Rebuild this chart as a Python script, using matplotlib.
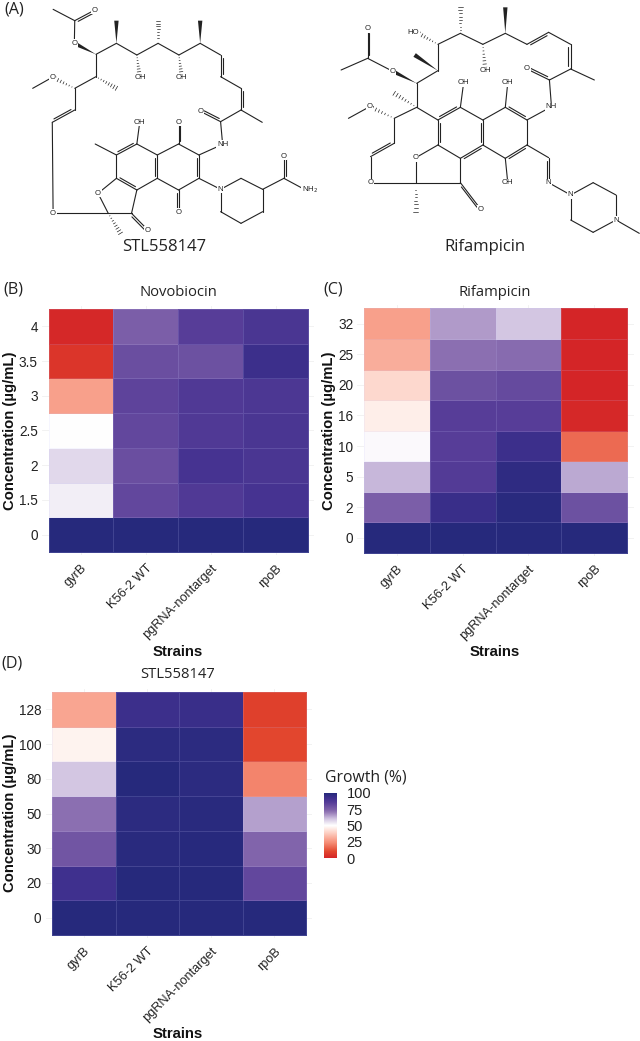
import numpy as np
import matplotlib
matplotlib.use('Agg')
import matplotlib.pyplot as plt
from matplotlib.colors import LinearSegmentedColormap
from matplotlib.patches import Polygon

strains = ['gyrB', 'K56-2 WT', 'pgRNA-nontarget', 'rpoB']

# values, growth in %, top row first
novo_conc = ['4', '3.5', '3', '2.5', '2', '1.5', '0']
novo_gyrB = [1, 5, 28, 50, 57, 53, 100]
novo_wt = [75, 80, 83, 82, 80, 82, 100]
novo_pg = [85, 79, 87, 87, 90, 87, 100]
novo_rpoB = [89, 93, 88, 89, 89, 90, 100]

rif_conc = ['32', '25', '20', '16', '10', '5', '2', '0']
rif_gyrB = [28, 31, 41, 46, 51, 62, 75, 100]
rif_wt = [66, 72, 79, 85, 85, 86, 94, 100]
rif_pg = [60, 73, 81, 85, 93, 97, 99, 100]
rif_rpoB = [0, 0, 0, 1, 17, 64, 79, 100]

stl_conc = ['128', '100', '80', '50', '30', '20', '0']
stl_gyrB = [29, 47, 60, 72, 78, 92, 100]
stl_wt = [93, 98, 100, 98, 99, 100, 100]
stl_pg = [94, 98, 98, 99, 99.5, 100, 100]
stl_rpoB = [8, 10, 22, 65, 74, 82, 100]

# Colour scale (red - white - navy, looks like a Lab gradient)
cmap = LinearSegmentedColormap.from_list('growth', [
    (0.00, '#d42527'), (0.10, '#e2472e'), (0.25, '#f7937c'), (0.40, '#fdd5ca'),
    (0.50, '#ffffff'), (0.60, '#d3c6e2'), (0.70, '#977cb8'), (0.75, '#7c5fa8'),
    (0.85, '#573d98'), (0.92, '#40308e'), (1.00, '#26297c')])

W, H = 640, 1041
SANS = 'Liberation Sans'
OPEN = 'Open Sans'

fig = plt.figure(figsize=(W / 100, H / 100), dpi=100)
over = fig.add_axes([0, 0, 1, 1], zorder=5)
over.set_xlim(0, W)
over.set_ylim(H, 0)
over.axis('off')


def heatmap(box, conc, cols, title, title_x, title_y):
    left, top, right, bottom = box  # pixel edges of the coloured cells
    nx, ny = len(cols), len(conc)
    ux = (right - left) / nx
    uy = (bottom - top) / ny
    # discrete scale expansion of 0.1 unit past the cells
    ax = fig.add_axes([(left - 0.1 * ux) / W, 1 - (bottom + 0.1 * uy) / H,
                       (right - left + 0.2 * ux) / W, (bottom - top + 0.2 * uy) / H])
    vals = np.array(cols).T[::-1]
    mesh = ax.pcolormesh(np.arange(nx + 1) - 0.5, np.arange(ny + 1) - 0.5, vals,
                         cmap=cmap, vmin=0, vmax=100,
                         edgecolors=(0.8, 0.8, 1, 0.16), linewidth=0.6, zorder=2)
    ax.set_xlim(-0.6, nx - 0.4)
    ax.set_ylim(-0.6, ny - 0.4)
    ax.set_xticks(range(nx))
    ax.set_xticklabels(strains, rotation=45, ha='right', va='top', rotation_mode='anchor',
                       fontsize=9.2, family=SANS, color='#222222')
    ax.set_yticks(range(ny))
    ax.set_yticklabels(conc[::-1], fontsize=9.8, family=SANS, color='#222222')
    ax.tick_params(length=0, pad=3)
    ax.tick_params(axis='x', pad=5)
    ax.grid(True, color='#f0f0f0', linewidth=0.6, zorder=0)
    ax.set_axisbelow(True)
    for s in ax.spines.values():
        s.set_visible(False)
    over.text(title_x, title_y, title, ha='center', va='center', fontsize=10.6,
              family=OPEN, color='#222222')
    return mesh


mesh = heatmap((48.5, 309, 308, 552), novo_conc,
               [novo_gyrB, novo_wt, novo_pg, novo_rpoB], 'Novobiocin', 178, 292)
heatmap((364, 308.5, 627, 553), rif_conc,
        [rif_gyrB, rif_wt, rif_pg, rif_rpoB], 'Rifampicin', 495, 292)
heatmap((52, 692, 306, 935), stl_conc,
        [stl_gyrB, stl_wt, stl_pg, stl_rpoB], 'STL558147', 178, 675)

# Axis labels
for x, y in [(178, 652), (495, 652), (178, 1034)]:
    over.text(x, y, 'Strains', ha='center', va='center', fontsize=10.7,
              fontweight='bold', family=SANS, color='#111111')
for x, y in [(10.5, 431), (329, 431), (10.5, 813)]:
    over.text(x, y, 'Concentration (µg/mL)', ha='center', va='center', rotation=90,
              fontsize=10.7, fontweight='bold', family=SANS, color='#111111')

# Panel letters
for x, y, s in [(4, 10, '(A)'), (3, 290, '(B)'), (323, 290, '(C)'), (1, 663, '(D)')]:
    over.text(x, y, s, ha='left', va='center', fontsize=11.6, family=OPEN, color='#222222')

# Legend
cax = fig.add_axes([324 / W, 1 - 858 / H, 13 / W, 65 / H])
cb = fig.colorbar(mesh, cax=cax)
cb.set_ticks([0, 25, 50, 75, 100])
cb.outline.set_visible(False)
cb.ax.tick_params(length=0, pad=7, labelsize=10.5, labelcolor='#222222')
for t in cb.ax.get_yticklabels():
    t.set_family(SANS)
over.text(325, 777, 'Growth (%)', ha='left', va='center', fontsize=11.3,
          family=OPEN, color='#222222')


# Chemical structures of panel A, coordinates
def P(a):
    return np.array([a[0] / 2.448, a[1] / 3.0])


def seg_px(a, b, lw=0.8):
    over.plot([a[0], b[0]], [a[1], b[1]], color='#222222', lw=lw,
              solid_capstyle='round', zorder=2)


def seg(a, b):
    seg_px(P(a), P(b))


def chain(pts):
    for a, b in zip(pts[:-1], pts[1:]):
        seg(a, b)


def double(a, b, side=1, off=2.2):
    a, b = P(a), P(b)
    seg_px(a, b)
    d = b - a
    n = np.array([-d[1], d[0]]) / np.hypot(*d) * off * side
    seg_px(a + 0.12 * d + n, b - 0.12 * d + n)


def wedge(a, b, w=2.2):
    a, b = P(a), P(b)
    d = b - a
    n = np.array([-d[1], d[0]]) / np.hypot(*d) * w
    over.add_patch(Polygon([a, b + n, b - n], closed=True, color='#222222', lw=0, zorder=2))


def hashed(a, b, w=2.4, count=8):
    a, b = P(a), P(b)
    d = b - a
    n = np.array([-d[1], d[0]]) / np.hypot(*d) * w
    for i in range(1, count + 1):
        f = i / count
        seg_px(a + f * d - f * n, a + f * d + f * n, lw=0.5)


def atom(x, y, s):
    px = P((x, y))
    over.text(px[0], px[1], s, ha='center', va='center', fontsize=5.6, family=SANS, color='#222222',
              zorder=3, bbox=dict(facecolor='white', edgecolor='none', pad=0.4))


# STL558147
chain([(130, 28), (183, 62), (182, 130)])
double((183, 62), (232, 30), side=1)
wedge((235, 163), (182, 130))
chain([(235, 163), (285, 130), (335, 165), (387, 130), (438, 165), (490, 130), (540, 165)])
double((540, 165), (540, 230), side=-1)
seg((540, 230), (590, 265))
double((590, 265), (590, 330), side=-1)
chain([(590, 330), (642, 367)])
seg((590, 330), (540, 365))
double((540, 365), (492, 335), side=1)
chain([(540, 365), (545, 433), (487, 465)])
wedge((285, 130), (285, 62))
hashed((387, 130), (387, 62))
wedge((490, 130), (490, 62))
hashed((335, 165), (342, 232))
hashed((438, 165), (445, 232))
seg((235, 163), (235, 230))
hashed((235, 230), (285, 265))
seg((235, 230), (183, 265))
hashed((183, 265), (128, 232))
seg((128, 232), (80, 265))
seg((183, 265), (183, 330))
double((183, 330), (128, 367), side=1)
chain([(128, 367), (130, 640), (265, 640)])
chain([(335, 432), (385, 465)])
double((385, 465), (385, 535), side=1)
seg((385, 535), (335, 570))
double((335, 570), (285, 535), side=1)
seg((285, 535), (285, 465))
double((285, 465), (335, 432), side=-1)
seg((335, 432), (342, 367))
seg((285, 465), (233, 432))
chain([(285, 535), (240, 580), (265, 640), (322, 640), (335, 570)])
double((322, 640), (362, 690), side=1)
hashed((265, 640), (295, 700))
chain([(385, 465), (437, 432), (487, 465)])
double((487, 465), (487, 535), side=1)
chain([(487, 535), (437, 570), (385, 535)])
double((437, 432), (437, 367), side=1, off=1.8)
double((437, 570), (437, 637), side=1, off=1.8)
chain([(487, 535), (540, 568), (590, 535), (643, 568), (643, 635), (590, 670), (540, 635), (540, 568)])
seg((643, 568), (695, 535))
double((695, 535), (695, 468), side=1, off=1.8)
seg((695, 535), (745, 568))
for x, y, s in [(232, 30, 'O'), (182, 130, 'O'), (343, 232, 'OH'), (445, 232, 'OH'), (128, 232, 'O'),
                (490, 335, 'O'), (545, 433, 'NH'), (342, 367, 'OH'), (437, 367, 'O'), (437, 637, 'O'),
                (240, 580, 'O'), (130, 640, 'O'), (362, 690, 'O'), (540, 568, 'N'), (695, 468, 'O'),
                (758, 570, 'NH$_2$')]:
    atom(x, y, s)

# Rifampicin
seg((835, 210), (900, 175))
double((900, 175), (900, 88), side=1, off=1.8)
seg((900, 175), (960, 213))
wedge((1020, 250), (960, 213))
seg((1020, 250), (1072, 212))
wedge((1072, 212), (1015, 165))
seg((1072, 212), (1072, 133))
hashed((1072, 133), (1020, 97))
seg((1072, 133), (1127, 100))
hashed((1127, 100), (1127, 20))
seg((1127, 100), (1182, 133))
hashed((1182, 133), (1188, 212))
seg((1182, 133), (1237, 100))
wedge((1237, 100), (1237, 22))
seg((1237, 100), (1290, 133))
double((1290, 133), (1343, 97), side=1)
seg((1343, 97), (1397, 133))
double((1397, 133), (1397, 207), side=1)
seg((1397, 207), (1455, 240))
seg((1397, 207), (1345, 240))
double((1345, 240), (1290, 207), side=1)
chain([(1345, 240), (1350, 320), (1290, 360)])
seg((1020, 250), (1020, 322))
hashed((1020, 322), (965, 280))
seg((1020, 322), (965, 355))
hashed((965, 355), (905, 320))
seg((905, 320), (853, 355))
seg((965, 355), (965, 430))
double((965, 430), (907, 470), side=1)
chain([(907, 470), (907, 548), (1127, 548)])
hashed((1018, 548), (1018, 635))
chain([(1018, 548), (1018, 473), (1072, 435)])
seg((1127, 548), (1127, 475))
double((1127, 548), (1177, 628), side=1, off=1.8)
seg((1020, 322), (1072, 360))
double((1072, 360), (1127, 322), side=-1)
seg((1127, 322), (1182, 360))
double((1182, 360), (1182, 435), side=1)
double((1182, 435), (1127, 475), side=-1)
seg((1127, 475), (1072, 435))
double((1072, 435), (1072, 360), side=1)
seg((1182, 360), (1237, 322))
double((1237, 322), (1290, 360), side=-1)
seg((1290, 360), (1290, 435))
double((1290, 435), (1237, 475), side=-1)
seg((1237, 475), (1182, 435))
seg((1127, 322), (1135, 248))
seg((1237, 322), (1243, 248))
seg((1237, 475), (1243, 548))
seg((1290, 435), (1343, 473))
double((1343, 473), (1343, 548), side=1, off=1.8)
chain([(1343, 548), (1397, 585), (1452, 548), (1508, 585), (1508, 660), (1452, 697), (1397, 660), (1397, 585)])
seg((1508, 660), (1565, 700))
for x, y, s in [(900, 87, 'O'), (960, 215, 'O'), (1012, 97, 'HO'), (1188, 212, 'OH'), (1290, 207, 'O'),
                (1350, 320, 'NH'), (905, 320, 'O'), (907, 548, 'O'), (1018, 473, 'O'), (1177, 628, 'O'),
                (1135, 248, 'OH'), (1243, 248, 'OH'), (1243, 548, 'OH'), (1343, 548, 'N'), (1397, 585, 'N'),
                (1508, 660, 'N')]:
    atom(x, y, s)

over.text(164, 247, 'STL558147', ha='center', va='center', fontsize=12, family=OPEN, color='#222222')
over.text(485, 247, 'Rifampicin', ha='center', va='center', fontsize=12, family=OPEN, color='#222222')

fig.savefig('out.png', dpi=100)
